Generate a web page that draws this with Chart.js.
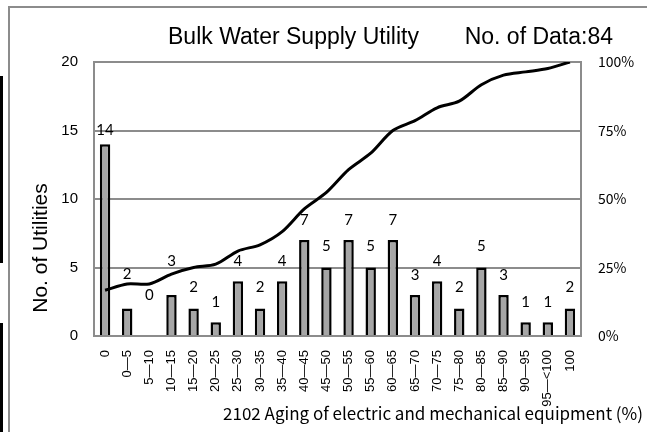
<!DOCTYPE html>
<html>
<head>
<meta charset="utf-8">
<script src="https://cdn.jsdelivr.net/npm/chart.js@4.4.1/dist/chart.umd.min.js"></script>
<style>
  html, body { margin: 0; padding: 0; background: #fff; }
  #wrap { position: relative; width: 647px; height: 432px; overflow: hidden; }
  #frame { position: absolute; left: 8px; top: 6px; width: 700px; height: 500px;
           border-left: 2px solid #8c8c8c; border-top: 2px solid #8c8c8c; }
  .edge { position: absolute; left: 0; width: 3px; background: #000; }
  canvas { position: absolute; left: 0; top: 0; }
</style>
</head>
<body>
<div id="wrap">
  <div id="frame"></div>
  <div class="edge" style="top:76px;height:187px"></div>
  <div class="edge" style="top:323px;height:109px"></div>
  <canvas id="chart" width="647" height="432"></canvas>
</div>
<script>
// aging ranges (%) of electric and mechanical equipment
const categories = ['0', '0—5', '5—10', '10—15', '15—20', '20—25', '25—30', '30—35',
  '35—40', '40—45', '45—50', '50—55', '55—60', '60—65', '65—70', '70—75',
  '75—80', '80—85', '85—90', '90—95', '95—<100', '100'];
const utilities = [14, 2, 0, 3, 2, 1, 4, 2, 4, 7, 5, 7, 5, 7, 3, 4, 2, 5, 3, 1, 1, 2];
const cumulativePct = [16.7, 19.0, 19.0, 22.6, 25.0, 26.2, 31.0, 33.3, 38.1, 46.4, 52.4,
  60.7, 66.7, 75.0, 78.6, 83.3, 85.7, 91.7, 95.2, 96.4, 97.6, 100];
const leftTicks = [0, 5, 10, 15, 20];
const rightTicks = ['0%', '25%', '50%', '75%', '100%'];

const titleLeft = 'Bulk Water Supply Utility';
const titleRight = 'No. of Data:84';
const yTitle = 'No. of Utilities';
const xTitle = '2102 Aging of electric and mechanical equipment (%)';

const GRID = '#8c8c8c';
const SANS = '"Liberation Sans", Arial, "Noto Sans CJK JP", sans-serif';
const JP = '"Noto Sans CJK JP", "Liberation Sans", sans-serif';

// how far above the bar top each count is written (px), moved up where the line sits
const labelLift = [14, 34, 41, 34, 21, 20, 20, 21, 20, 20, 21, 20, 21, 20, 20, 20, 21, 21, 20, 20, 20, 21];

const textPlugin = {
  id: 'texts',
  afterDatasetsDraw(chart) {
    const ctx = chart.ctx;
    const meta = chart.getDatasetMeta(0);
    ctx.save();
    ctx.fillStyle = '#000';
    ctx.font = '15px Lato, "Liberation Sans", sans-serif';
    ctx.textAlign = 'center';
    ctx.textBaseline = 'middle';
    meta.data.forEach((bar, i) => {
      ctx.fillText(String(utilities[i]), bar.x, bar.y - labelLift[i]);
    });
    ctx.restore();
  },
  afterDraw(chart) {
    const ctx = chart.ctx;
    ctx.save();
    ctx.fillStyle = '#000';
    ctx.textBaseline = 'middle';
    ctx.font = '23px ' + SANS;
    ctx.textAlign = 'left';
    ctx.fillText(titleLeft, 168, 38);
    ctx.textAlign = 'right';
    ctx.fillText(titleRight, 613, 38);

    ctx.font = '17px ' + JP;
    ctx.textAlign = 'right';
    ctx.fillText(xTitle, 643, 414);

    ctx.translate(41, 248);
    ctx.rotate(-Math.PI / 2);
    ctx.textAlign = 'center';
    ctx.font = '21px ' + SANS;
    ctx.fillText(yTitle, 0, 0);
    ctx.restore();
  }
};

new Chart(document.getElementById('chart'), {
  data: {
    labels: categories,
    datasets: [{
      type: 'bar',
      data: utilities,
      backgroundColor: '#a6a6a6',
      borderColor: '#000',
      borderWidth: 2.5,
      barPercentage: 0.47,
      categoryPercentage: 1,
      yAxisID: 'y',
      order: 1
    }, {
      type: 'line',
      data: cumulativePct,
      borderColor: '#000',
      borderWidth: 3,
      pointRadius: 0,
      tension: 0.3,
      yAxisID: 'y1',
      order: 0
    }]
  },
  options: {
    responsive: false,
    animation: false,
    layout: { padding: { top: 62, left: 0, right: 0, bottom: 0 } },
    plugins: {
      legend: { display: false },
      tooltip: { enabled: false }
    },
    scales: {
      x: {
        grid: { display: false },
        border: { display: false },
        ticks: {
          autoSkip: false, minRotation: 90, maxRotation: 90,
          color: '#000', padding: 6,
          font: { family: SANS, size: 13 }
        },
        afterFit: s => { s.height = 96; }
      },
      y: {
        position: 'left',
        min: 0, max: 20,
        afterBuildTicks: s => { s.ticks = leftTicks.map(v => ({ value: v })); },
        grid: { color: GRID, lineWidth: 2, drawTicks: false },
        border: { color: GRID, width: 2 },
        ticks: { color: '#000', padding: 16, font: { family: SANS, size: 15 } },
        afterFit: s => { s.width = 94; }
      },
      y1: {
        position: 'right',
        min: 0, max: 100,
        afterBuildTicks: s => { s.ticks = rightTicks.map((t, i) => ({ value: i * 25 })); },
        grid: { drawOnChartArea: false, drawTicks: false },
        border: { color: GRID, width: 2 },
        ticks: {
          color: '#000', padding: 17,
          font: { family: JP, size: 14 },
          callback: (v, i) => rightTicks[i]
        },
        afterFit: s => { s.width = 66; }
      }
    }
  },
  plugins: [textPlugin]
});
</script>
</body>
</html>
